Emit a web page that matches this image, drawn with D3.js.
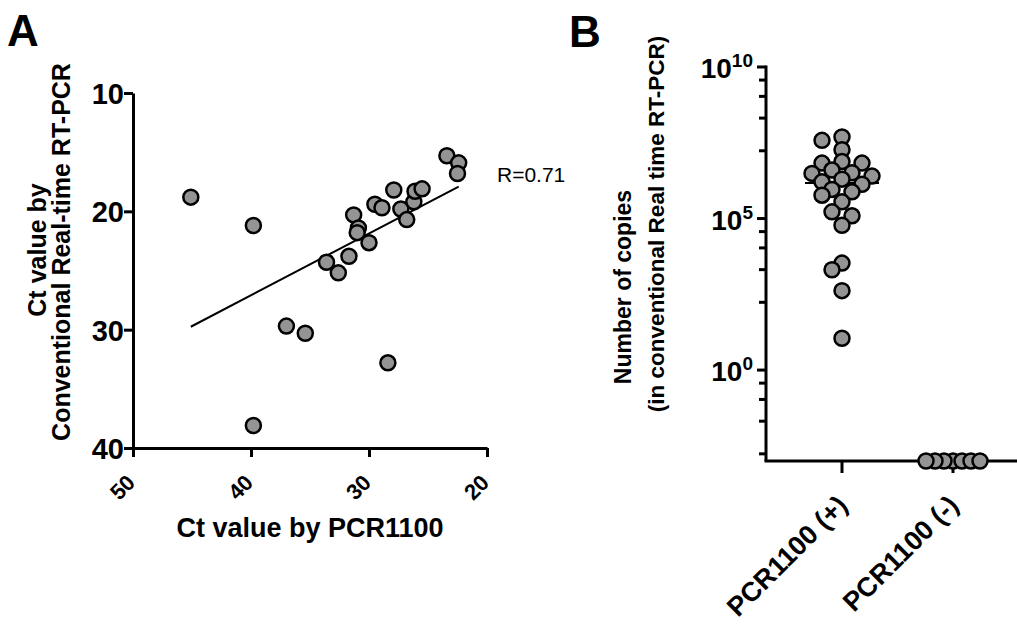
<!DOCTYPE html>
<html>
<head>
<meta charset="utf-8">
<script src="https://cdn.jsdelivr.net/npm/d3@7"></script>
<style>
  body { margin: 0; background: #fff; }
  svg { font-family: "Liberation Sans", Arial, sans-serif; }
  .axis path, .axis line { stroke: #000; stroke-width: 3; }
  .bold { font-weight: bold; }
</style>
</head>
<body>
<div id="chart"></div>
<script>
var svgWidth = 1017;
var svgHeight = 625;

// Panel A: Ct values, PCR1100 (x) vs conventional real-time RT-PCR (y)
var ctPCR1100 = [45.1, 39.8, 39.8, 37.0, 35.4, 33.6, 32.6, 31.7, 31.3, 30.9, 31.0, 30.0,
                 29.5, 28.9, 28.4, 27.9, 27.3, 26.8, 26.2, 26.1, 25.5, 23.4, 22.4, 22.5];
var ctConventional = [18.8, 21.2, 38.1, 29.7, 30.3, 24.3, 25.2, 23.8, 20.3, 21.4, 21.8, 22.65,
                      19.4, 19.7, 32.8, 18.2, 19.8, 20.7, 19.2, 18.3, 18.1, 15.3, 15.9, 16.8];
var xTicksA = [50, 40, 30, 20];
var yTicksA = [10, 20, 30, 40];
var rLabel = "R=0.71";

// Panel B: copies (log10 exponent) per group
var groups = ["PCR1100 (+)", "PCR1100 (-)"];
var copiesPosExp = [7.69, 7.58, 7.27, 6.88, 6.83, 6.83, 6.6, 6.51, 6.49, 6.40, 6.3, 6.21,
                    6.13, 5.96, 5.88, 5.77, 5.55, 5.22, 5.09, 4.78, 3.53, 3.31, 2.62, 1.05];
var copiesNegExp = [-3, -3, -3, -3, -3, -3, -3];
var yMajorExpB = [10, 5, 0];

var svg = d3.select("#chart")
  .append("svg")
  .attr("width", svgWidth)
  .attr("height", svgHeight);

///////////////////////////
// Panel A

var xA = d3.scaleLinear().domain([50, 20]).range([133, 487]);
var yA = d3.scaleLinear().domain([10, 40]).range([93, 448]);

svg.append("text").attr("class", "bold")
  .attr("x", 7).attr("y", 46)
  .style("font-size", "44px")
  .text("A");

var xAxisA = svg.append("g")
  .attr("class", "axis")
  .attr("transform", "translate(0,448)")
  .call(d3.axisBottom(xA).tickValues(xTicksA).tickSize(9).tickSizeOuter(0));
xAxisA.selectAll("text")
  .attr("class", "bold")
  .style("font-size", "22px")
  .attr("text-anchor", "end")
  .attr("transform", "translate(3,36) rotate(-45)")
  .attr("dy", 0)
  .attr("y", 0)
  .attr("x", 0);

var yAxisA = svg.append("g")
  .attr("class", "axis")
  .attr("transform", "translate(133,0)")
  .call(d3.axisLeft(yA).tickValues(yTicksA).tickSize(9).tickSizeOuter(0));
yAxisA.selectAll("text")
  .attr("class", "bold")
  .style("font-size", "29px")
  .attr("x", -9)
  .attr("dy", "0.36em");
svg.selectAll(".axis text").attr("fill", "#000");

// regression line (least squares) over the data range
var meanX = d3.mean(ctPCR1100), meanY = d3.mean(ctConventional);
var sxy = d3.sum(ctPCR1100, (d, i) => (d - meanX) * (ctConventional[i] - meanY));
var sxx = d3.sum(ctPCR1100, d => (d - meanX) * (d - meanX));
var slope = sxy / sxx;
var intercept = meanY - slope * meanX;
var xExt = d3.extent(ctPCR1100);

svg.append("line")
  .attr("x1", xA(xExt[0])).attr("y1", yA(intercept + slope * xExt[0]))
  .attr("x2", xA(xExt[1])).attr("y2", yA(intercept + slope * xExt[1]))
  .attr("stroke", "#000")
  .attr("stroke-width", 2);

svg.append("g").selectAll("circle")
  .data(ctPCR1100)
  .enter()
  .append("circle")
  .attr("cx", d => xA(d))
  .attr("cy", (d, i) => yA(ctConventional[i]))
  .attr("r", 7.5)
  .attr("fill", "#949494")
  .attr("stroke", "#000")
  .attr("stroke-width", 2.5);

svg.append("text")
  .attr("x", 497).attr("y", 182)
  .style("font-size", "21px")
  .text(rLabel);

svg.append("text").attr("class", "bold")
  .attr("x", 310).attr("y", 537)
  .attr("text-anchor", "middle")
  .style("font-size", "27px")
  .text("Ct value by PCR1100");

svg.append("text").attr("class", "bold")
  .attr("transform", "translate(46,250) rotate(-90)")
  .attr("text-anchor", "middle")
  .style("font-size", "25px")
  .text("Ct value by");
svg.append("text").attr("class", "bold")
  .attr("transform", "translate(70,252) rotate(-90)")
  .attr("text-anchor", "middle")
  .style("font-size", "25px")
  .text("Conventional Real-time RT-PCR");

///////////////////////////
// Panel B

var yB = d3.scaleLog().domain([1e-3, 1e10]).range([461, 67]);
var xB = d3.scalePoint().domain(groups).range([842, 953]);

svg.append("text").attr("class", "bold")
  .attr("x", 569).attr("y", 47)
  .style("font-size", "44px")
  .text("B");

// y axis line + ticks
var yAxisB = svg.append("g").attr("class", "axis");
yAxisB.append("line")
  .attr("x1", 766).attr("x2", 766)
  .attr("y1", yB(1e10) - 1.5).attr("y2", yB(1e-3));

// minor ticks: linear fifths inside each five-decade step
var minorExp = [];
yMajorExpB.forEach(function(e) {
  for (var k = 1; k <= 4; k++) {
    var m = e - 5 + 5 * Math.log10(1 + 1.8 * k);
    if (m >= -3 && m < e) minorExp.push(m);
  }
});
yAxisB.selectAll(".minor")
  .data(minorExp)
  .enter()
  .append("line")
  .attr("x1", 759).attr("x2", 766)
  .attr("y1", d => yB(Math.pow(10, d))).attr("y2", d => yB(Math.pow(10, d)));
yAxisB.selectAll(".major")
  .data(yMajorExpB)
  .enter()
  .append("line")
  .attr("x1", 757).attr("x2", 766)
  .attr("y1", d => yB(Math.pow(10, d))).attr("y2", d => yB(Math.pow(10, d)));

var yLab = svg.append("g").selectAll("text")
  .data(yMajorExpB)
  .enter()
  .append("text")
  .attr("class", "bold")
  .attr("x", 753)
  .attr("y", d => yB(Math.pow(10, d)) + 11)
  .attr("text-anchor", "end")
  .style("font-size", "28px");
yLab.append("tspan").text("10");
yLab.append("tspan").attr("dy", -11).style("font-size", "19px").text(d => d);

// x axis
var xAxisB = svg.append("g").attr("class", "axis");
xAxisB.append("line")
  .attr("x1", 764.5).attr("x2", 1017)
  .attr("y1", 461).attr("y2", 461);
xAxisB.selectAll(".tick")
  .data(groups)
  .enter()
  .append("line")
  .attr("x1", d => xB(d)).attr("x2", d => xB(d))
  .attr("y1", 461).attr("y2", 473);

svg.append("g").selectAll("text")
  .data(groups)
  .enter()
  .append("text")
  .attr("class", "bold")
  .attr("text-anchor", "end")
  .attr("transform", d => `translate(${xB(d) + 7},507) rotate(-45)`)
  .style("font-size", "27px")
  .text(d => d);

// simple beeswarm: step sideways until a point no longer collides
function swarm(exps, cx, step, minDist) {
  var placed = [];
  exps.slice().sort((a, b) => b - a).forEach(function(e) {
    var cy = yB(Math.pow(10, e));
    for (var k = 0; k < 40; k++) {
      var off = (k === 0) ? 0 : (k % 2 ? -1 : 1) * Math.ceil(k / 2) * step;
      var ok = placed.every(p => Math.hypot(p.x - (cx + off), p.y - cy) >= minDist);
      if (ok) { placed.push({x: cx + off, y: cy}); break; }
    }
  });
  return placed;
}

// median line for the positive group
var medPos = Math.log10(d3.median(copiesPosExp.map(e => Math.pow(10, e))));
svg.append("line")
  .attr("x1", xB(groups[0]) - 37).attr("x2", xB(groups[0]) + 37)
  .attr("y1", yB(Math.pow(10, medPos))).attr("y2", yB(Math.pow(10, medPos)))
  .attr("stroke", "#000").attr("stroke-width", 2);

var pts = swarm(copiesPosExp, xB(groups[0]), 10, 11.5)
  .concat(swarm(copiesNegExp, xB(groups[1]), 9, 9));
svg.append("g").selectAll("circle")
  .data(pts)
  .enter()
  .append("circle")
  .attr("cx", d => d.x)
  .attr("cy", d => d.y)
  .attr("r", 7.5)
  .attr("fill", "#949494")
  .attr("stroke", "#000")
  .attr("stroke-width", 2.5);

svg.append("text").attr("class", "bold")
  .attr("transform", "translate(631,287) rotate(-90)")
  .attr("text-anchor", "middle")
  .style("font-size", "23px")
  .text("Number of copies");
svg.append("text").attr("class", "bold")
  .attr("transform", "translate(664,224) rotate(-90)")
  .attr("text-anchor", "middle")
  .style("font-size", "22.5px")
  .text("(in conventional Real time RT-PCR)");
</script>
</body>
</html>
